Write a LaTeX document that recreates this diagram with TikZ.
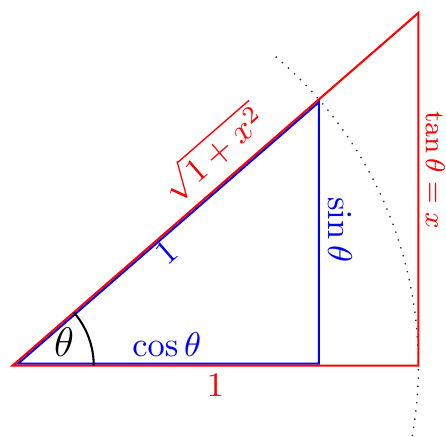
\documentclass[tikz,border=0pt]{standalone}
\usepackage{tikz}
\usepackage{amsmath, amssymb}
\usetikzlibrary{calc}

\begin{document}
\begin{tikzpicture}[x=4.15cm, y=4.15cm, semithick]

      \def\ang{41}
      \pgfmathsetmacro{\cs}{cos(\ang)}
      \pgfmathsetmacro{\sn}{sin(\ang)}
      \pgfmathsetmacro{\tn}{tan(\ang)}

      \useasboundingbox (-0.031,-0.175) rectangle (1.068,0.901);

      \coordinate (O) at (0,0);
      \coordinate (A) at (1,0);
      \coordinate (T) at (1,\tn);

      \draw[black!80, thin, dotted] (-10:1) arc (-10:50:1);

      \draw[blue] ([shift={(1.6pt,0.6pt)}]0,0) -- ([yshift=0.6pt]\cs,0) -- ([yshift=-0.8pt]\cs,\sn) -- cycle;
      \draw[red] (O) -- (A) -- (T) -- cycle;

      \draw[black] (0.2,0) arc (0:\ang:0.2);

      \node[font=\large] at (0.127,0.058) {$\theta$};
      \node[blue] at (0.38,0.053) {$\cos\theta$};
      \node[red] at (0.5,-0.049) {$1$};
      \node[blue, rotate=-90] at (0.807,0.335) {$\sin\theta$};
      \node[red, rotate=-90, font=\footnotesize] at (1.042,0.482) {$\tan\theta = x$};
      \node[blue, rotate=\ang] at (0.380,0.279) {$1$};
      \node[red, rotate=\ang] at (0.494,0.525) {$\sqrt{1+x^2}$};

    \end{tikzpicture}
\end{document}
